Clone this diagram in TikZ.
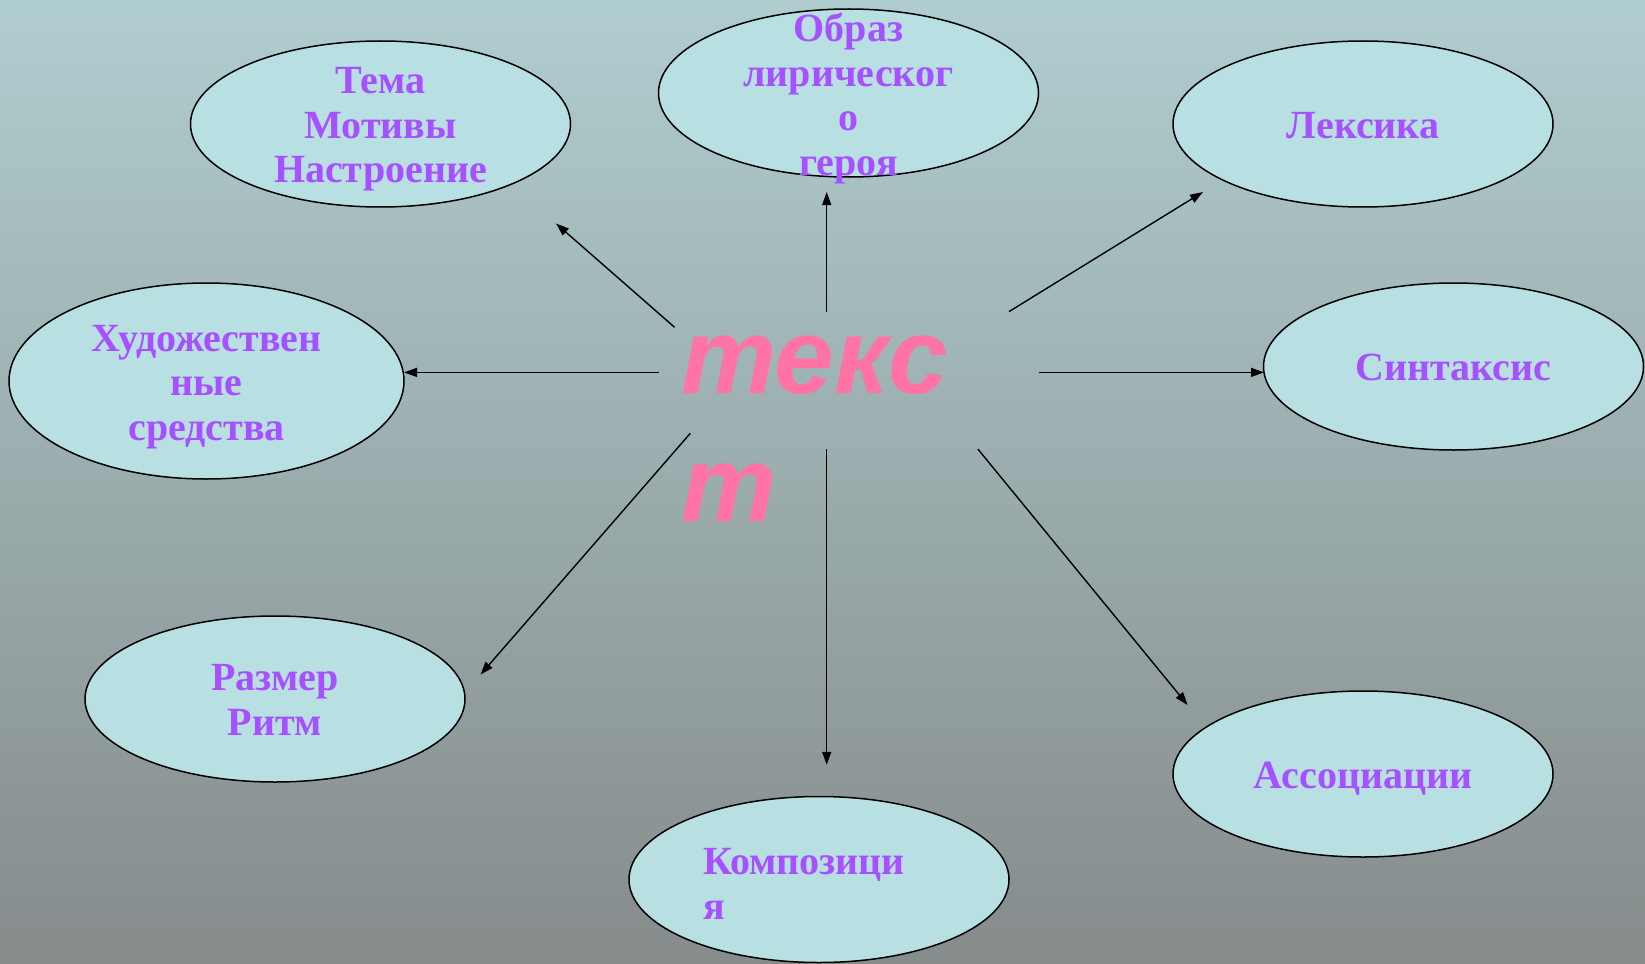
\documentclass[tikz,border=0pt]{standalone}
\usepackage{fontspec}
\setmainfont{Liberation Serif}
\newfontfamily\pinkfont{Liberation Sans}
\usetikzlibrary{shapes.geometric,arrows.meta}
\definecolor{bgtop}{RGB}{176,205,207}
\definecolor{bgbot}{RGB}{134,139,139}
\definecolor{ellfill}{RGB}{184,223,226}
\definecolor{violettext}{RGB}{167,80,255}
\definecolor{pinktext}{RGB}{255,115,165}
\tikzset{
  oval/.style={ellipse, draw=black, line width=1.5pt, fill=ellfill, inner sep=0pt,
    minimum width=380pt, minimum height=166pt},
  lbl/.style={text=violettext, font=\bfseries\fontsize{40}{44.5}\selectfont, align=center, inner sep=0pt},
  arr/.style={line width=1.4pt, -{Triangle[length=13pt,width=9pt]}},
}
\begin{document}
\begin{tikzpicture}[x=1pt,y=-1pt]
\useasboundingbox (0,0) rectangle (1645,963);
\fill[top color=bgtop, bottom color=bgbot] (0,0) rectangle (1645,963);

% ellipses
\node[oval] (tema) at (380.5,124) {};
\node[oval, minimum height=168pt] (obraz) at (848.5,93) {};
\node[oval] (leks) at (1363,124) {};
\node[oval, minimum width=395pt, minimum height=196pt] (hud) at (206.5,381) {};
\node[oval, minimum height=167pt] (sint) at (1453.5,366.5) {};
\node[oval] (razm) at (275,699) {};
\node[oval] (komp) at (819,879.5) {};
\node[oval] (assoc) at (1363,774) {};

% labels
\node[lbl] (tematxt) at ([yshift=-5.5pt]tema.center) {Тема\\Мотивы\\Настроение};
\node[lbl] (obraztxt) at ([yshift=-5.5pt]obraz.center) {Образ\\лирическог\\о\\героя};
\node[lbl] (lekstxt) at ([yshift=-2pt]leks.center) {Лексика};
\node[lbl] (hudtxt) at ([yshift=-6pt]hud.center) {Художествен\\ные\\средства};
\node[lbl] (sinttxt) at ([yshift=-1pt]sint.center) {Синтаксис};
\node[lbl] (razmtxt) at ([yshift=-1pt]razm.center) {Размер\\Ритм};
\node[lbl, align=left, anchor=west] (komptxt) at (703,884) {Композици\\я};
\node[lbl] (assoctxt) at ([yshift=-5pt]assoc.center) {Ассоциации};

% centre text
\node[text=pinktext, font=\pinkfont\bfseries\itshape\fontsize{107}{128}\selectfont,
  align=left, anchor=base west, inner sep=0pt] (tekst) at (681,521.7) {текс\\т};

% arrow ends
\coordinate (s1) at (674.6,327.3); \coordinate (t1) at (556,223.5);
\coordinate (s2) at (826.7,311.6); \coordinate (t2) at (826.7,192);
\coordinate (s3) at (1009,311.6);  \coordinate (t3) at (1203,192);
\coordinate (s4) at (658.8,372.4); \coordinate (t4) at (404,372.4);
\coordinate (s5) at (1038.6,372.4);\coordinate (t5) at (1264,372.4);
\coordinate (s6) at (690.3,433.3); \coordinate (t6) at (480.5,674.6);
\coordinate (s7) at (826.7,449);   \coordinate (t7) at (826.7,764.8);
\coordinate (s8) at (977.8,449);   \coordinate (t8) at (1187.6,705);

\draw[arr] (s1) -- (t1);
\draw[arr] (s2) -- (t2);
\draw[arr] (s3) -- (t3);
\draw[arr] (s4) -- (t4);
\draw[arr] (s5) -- (t5);
\draw[arr] (s6) -- (t6);
\draw[arr] (s7) -- (t7);
\draw[arr] (s8) -- (t8);
\end{tikzpicture}
\end{document}
